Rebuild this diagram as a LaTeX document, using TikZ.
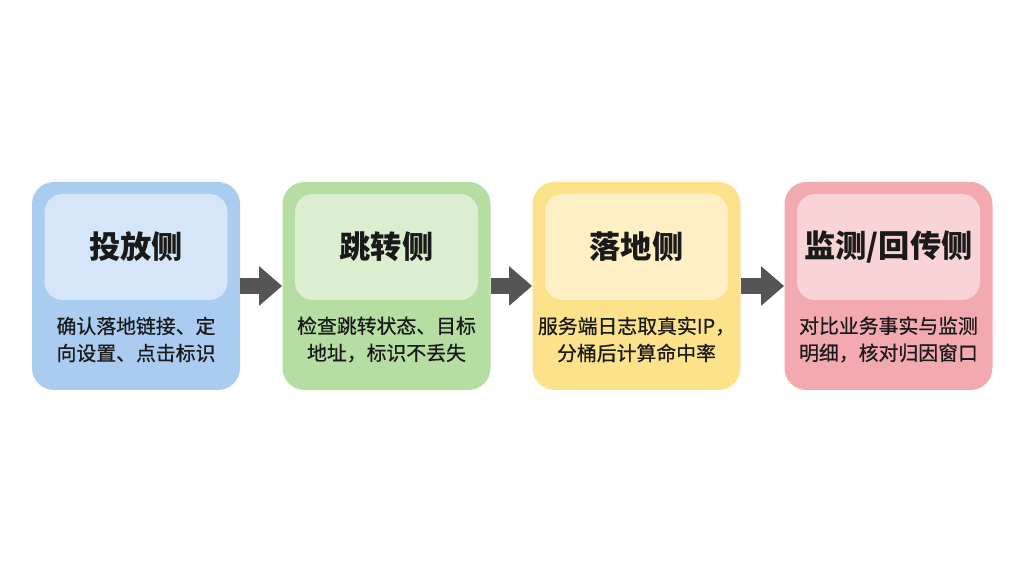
\documentclass[tikz,border=0pt]{standalone}
\usepackage{fontspec}
\newfontfamily\cjk{Noto Sans CJK SC}
\newfontfamily\cjkdesc[FakeBold=0.6]{Noto Sans CJK SC}
\usetikzlibrary{arrows.meta}

\definecolor{blueout}{HTML}{A9CCF0}
\definecolor{bluein}{HTML}{D4E6F8}
\definecolor{greenout}{HTML}{B6DDA2}
\definecolor{greenin}{HTML}{DBEFD0}
\definecolor{yellowout}{HTML}{FDE28C}
\definecolor{yellowin}{HTML}{FEF0C4}
\definecolor{pinkout}{HTML}{F2AAB0}
\definecolor{pinkin}{HTML}{F8D4D7}
\definecolor{arrowgray}{HTML}{555555}
\definecolor{inkdark}{HTML}{1A1A1A}

\begin{document}
\begin{tikzpicture}[line cap=round, line join=round,
    stagebox/.style={rounded corners=0.44cm, minimum width=4.16cm, minimum height=4.16cm, inner sep=0pt},
    titlebox/.style={rounded corners=0.36cm, minimum width=3.66cm, minimum height=2.12cm, inner sep=0pt},
    titletext/.style={font=\cjk\bfseries\fontsize{17.8}{20}\selectfont, text=inkdark},
    desctext/.style={font=\cjkdesc\fontsize{11.3}{15.4}\selectfont, text=inkdark, align=center},
    flowarrow/.style={draw=arrowgray, line width=0.32cm, line cap=butt,
      -{Triangle[length=0.46cm, width=0.76cm]}}]

  \useasboundingbox (0,0) rectangle (20.48,11.44);

  % ── Placement (投放) ─────────────────────────────────────────────────────────
  \node[stagebox, fill=blueout] (place) at (2.72, 5.72) {};
  \node[titlebox, fill=bluein]  (placehead) at (2.72, 6.5) {};
  \node[titletext] (placetitle) at (placehead) {投放侧};
  \node[desctext]  (placedesc)  at (2.72, 4.65) {确认落地链接、定\\向设置、点击标识};

  % ── Redirect (跳转) ──────────────────────────────────────────────────────────
  \node[stagebox, fill=greenout] (jump) at (7.73, 5.72) {};
  \node[titlebox, fill=greenin]  (jumphead) at (7.73, 6.5) {};
  \node[titletext] (jumptitle) at (jumphead) {跳转侧};
  \node[desctext]  (jumpdesc)  at (7.73, 4.65) {检查跳转状态、目标\\地址，标识不丢失};

  % ── Landing (落地) ───────────────────────────────────────────────────────────
  \node[stagebox, fill=yellowout] (land) at (12.73, 5.72) {};
  \node[titlebox, fill=yellowin]  (landhead) at (12.73, 6.5) {};
  \node[titletext] (landtitle) at (landhead) {落地侧};
  \node[desctext]  (landdesc)  at (12.73, 4.65) {服务端日志取真实IP，\\分桶后计算命中率};

  % ── Monitoring / callback (监测/回传) ────────────────────────────────────────
  \node[stagebox, fill=pinkout] (track) at (17.77, 5.72) {};
  \node[titlebox, fill=pinkin]  (trackhead) at (17.77, 6.5) {};
  \node[titletext] (tracktitle) at (trackhead) {监测/回传侧};
  \node[desctext]  (trackdesc)  at (17.77, 4.65) {对比业务事实与监测\\明细，核对归因窗口};

  % Flow arrows
  \draw[flowarrow] (place.east) -- (jump.west);
  \draw[flowarrow] (jump.east)  -- (land.west);
  \draw[flowarrow] (land.east)  -- (track.west);

\end{tikzpicture}
\end{document}
